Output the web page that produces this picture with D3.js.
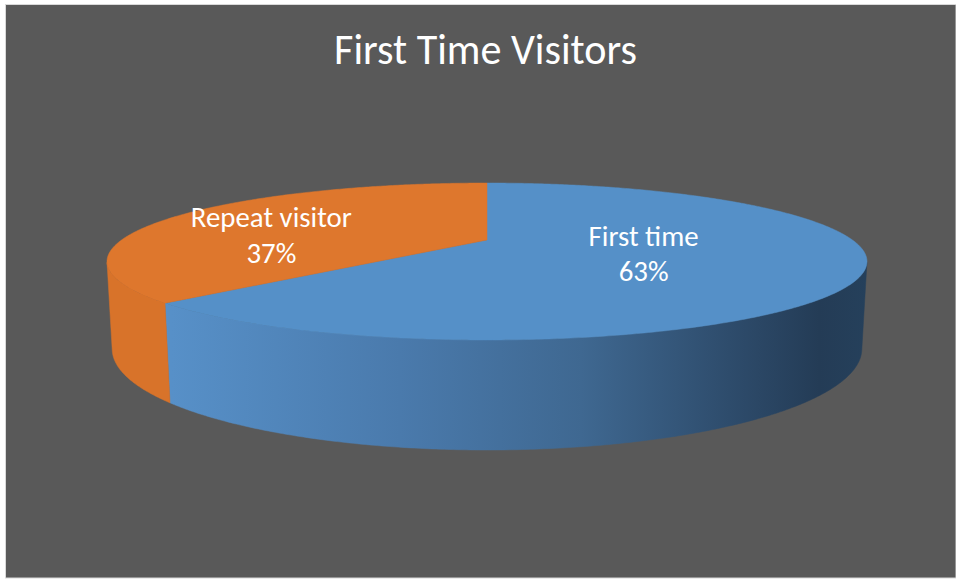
<!DOCTYPE html>
<html><head><meta charset="utf-8">
<script src="https://cdn.jsdelivr.net/npm/d3@7"></script>
<style>html,body{margin:0;padding:0;background:#fff;} svg{display:block;}</style>
</head><body>
<svg id="chart" width="956" height="580"></svg>
<script>
// ---- data ----
const chartTitle = "First Time Visitors";
const categories = ["First time", "Repeat visitor"];
const values = [62.6, 37.4];
const topColors = ["#5590c8", "#de772d"];
const wallColors = ["#4f86bd", "#d8732a"];

// ---- layout ----
const W = 956, H = 580;
const FONT = "Carlito, Lato, 'Open Sans', sans-serif";
const view = {cx: 487, cy: 240, f: 1308, dist: 3.579, tilt: Math.asin(0.1986), depth: 0.2306};
const labelLayout = [{r: 0.45, dA: 3}, {r: 0.6, dA: -18}];
const sinT = Math.sin(view.tilt), cosT = Math.cos(view.tilt);

function project(theta, r, y) {
  const X = r * Math.sin(theta), Z = -r * Math.cos(theta);
  const dep = view.dist - Z * cosT - y * sinT;
  return [view.cx + view.f * X / dep, view.cy + view.f * (Z * sinT - y * cosT) / dep];
}
function arcPts(a0, a1, r, y) {
  const n = Math.max(2, Math.ceil(Math.abs(a1 - a0) / (Math.PI / 360)));
  return d3.range(n + 1).map(i => project(a0 + (a1 - a0) * i / n, r, y));
}

const svg = d3.select("#chart");
svg.append("rect").attr("x", 5.5).attr("y", 4.5).attr("width", W - 5.5).attr("height", H - 6.5)
  .attr("fill", "#595959").attr("stroke", "#d9d9d9").attr("stroke-width", 1);

const pie = d3.pie().sort(null).value(d => d)(values);
const line = d3.line();

// visible outer wall range
const half = Math.acos(1 / (view.dist * cosT));
const vis0 = Math.PI - half, vis1 = Math.PI + half;
const xLeft = project(vis1, 1, 0)[0], xRight = project(vis0, 1, 0)[0];

const defs = svg.append("defs");
const grad = defs.append("linearGradient").attr("id", "wallBlue")
  .attr("gradientUnits", "userSpaceOnUse")
  .attr("x1", xLeft).attr("x2", xRight).attr("y1", 0).attr("y2", 0);
[[0, "#5a93cb"], [0.085, "#5790c8"], [0.385, "#4a7aac"], [0.624, "#3f6891"], [0.819, "#2e4c6c"], [0.937, "#243c56"], [1, "#25405b"]]
  .forEach(([o, c]) => grad.append("stop").attr("offset", o).attr("stop-color", c));

// walls
pie.forEach((p, i) => {
  const a0 = Math.max(p.startAngle, vis0), a1 = Math.min(p.endAngle, vis1);
  if (a1 <= a0) return;
  const pts = arcPts(a0, a1, 1, 0).concat(arcPts(a1, a0, 1, -view.depth));
  svg.append("path").attr("d", line(pts) + "Z")
    .attr("fill", i === 0 ? "url(#wallBlue)" : wallColors[i])
    .attr("stroke", i === 0 ? "url(#wallBlue)" : wallColors[i]).attr("stroke-width", 0.5);
});

// top faces
pie.forEach((p, i) => {
  const pts = [project(0, 0, 0)].concat(arcPts(p.startAngle, p.endAngle, 1, 0));
  svg.append("path").attr("d", line(pts) + "Z")
    .attr("fill", topColors[i]).attr("stroke", topColors[i]).attr("stroke-width", 0.5);
});

// title
const t = svg.append("text").attr("x", 485.5).attr("y", 64).attr("text-anchor", "middle")
  .attr("fill", "#ffffff").attr("font-family", FONT).attr("font-size", 100).text(chartTitle);
t.attr("font-size", 100 * 303 / t.node().getComputedTextLength());

// labels
const total = d3.sum(values);
const probe = svg.append("text").attr("font-family", FONT).attr("font-size", 100).text(categories[1]);
const labelSize = 100 * 161 / probe.node().getComputedTextLength();
probe.remove();

pie.forEach((p, i) => {
  const mid = (p.startAngle + p.endAngle) / 2 + labelLayout[i].dA * Math.PI / 180;
  const [x, y] = project(mid, labelLayout[i].r, 0);
  const g = svg.append("text").attr("text-anchor", "middle").attr("fill", "#ffffff")
    .attr("font-family", FONT).attr("font-size", labelSize);
  g.append("tspan").attr("x", x).attr("y", y - 9).text(categories[i]);
  g.append("tspan").attr("x", x).attr("y", y + 26.5).text(Math.round(values[i] / total * 100) + "%");
});
</script>
</body></html>
